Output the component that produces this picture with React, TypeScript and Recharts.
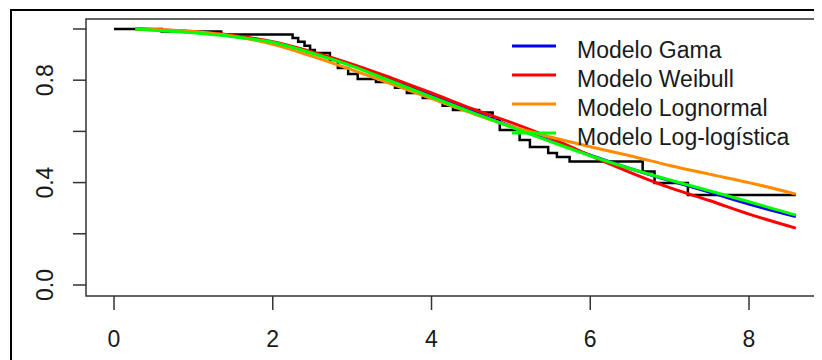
import { LineChart, Line, XAxis, YAxis, ReferenceArea, Legend } from "recharts";

// tempos onde as curvas parametricas foram lidas
const modelTimes = [0.27, 0.5, 1, 1.5, 2, 2.5, 3, 3.5, 4, 4.5, 5, 5.5, 6, 6.5, 7, 7.5, 8, 8.59];
const gamaSurv = [1.0, 0.997, 0.987, 0.972, 0.948, 0.907, 0.858, 0.8, 0.74, 0.68, 0.62, 0.562, 0.507, 0.455, 0.408, 0.363, 0.316, 0.267];
const weibullSurv = [1.0, 0.998, 0.99, 0.975, 0.95, 0.91, 0.863, 0.808, 0.75, 0.69, 0.635, 0.575, 0.505, 0.44, 0.38, 0.33, 0.277, 0.222];
const lognormalSurv = [1.0, 0.998, 0.99, 0.972, 0.94, 0.893, 0.84, 0.785, 0.728, 0.672, 0.62, 0.578, 0.54, 0.505, 0.467, 0.433, 0.4, 0.355];
const loglogSurv = [1.0, 0.995, 0.985, 0.97, 0.948, 0.905, 0.855, 0.795, 0.735, 0.675, 0.617, 0.56, 0.505, 0.455, 0.41, 0.368, 0.325, 0.273];

// Kaplan-Meier (degraus)
const kmTimes = [0, 0.6, 1.35, 2.25, 2.32, 2.4, 2.47, 2.53, 2.72, 2.82, 2.95, 3.07, 3.3, 3.54, 3.69, 3.89, 4.14, 4.27, 4.6, 4.77, 4.86, 5.11, 5.24, 5.47, 5.58, 5.74, 6.66, 6.81, 7.23, 8.59];
const kmSurv = [1.0, 0.99, 0.978, 0.965, 0.95, 0.935, 0.918, 0.906, 0.879, 0.848, 0.824, 0.805, 0.793, 0.77, 0.75, 0.73, 0.7, 0.684, 0.674, 0.645, 0.605, 0.566, 0.539, 0.516, 0.5, 0.482, 0.443, 0.398, 0.352, 0.352];

const legendOrder = ["Modelo Gama", "Modelo Weibull", "Modelo Lognormal", "Modelo Log-logística"];

const xTicks = [0, 2, 4, 6, 8];
const yTicks = [0, 0.2, 0.4, 0.6, 0.8, 1.0];
const yLabels = ["0.0", "", "0.4", "", "0.8", ""];

const toRows = (ts: number[], ss: number[]) => ts.map((t, i) => ({ t, s: ss[i] }));

const kmData = toRows(kmTimes, kmSurv);
const gamaData = toRows(modelTimes, gamaSurv);
const weibullData = toRows(modelTimes, weibullSurv);
const lognormalData = toRows(modelTimes, lognormalSurv);
const loglogData = toRows(modelTimes, loglogSurv);

const FONT = "'Liberation Sans', Arial, sans-serif";

const YTick = (props: any) => {
  const { x, y, index } = props;
  const label = yLabels[index];
  if (!label) return null;
  return (
    <text x={x} y={y} transform={`rotate(-90, ${x}, ${y})`} textAnchor="middle" fontSize={23} fontFamily={FONT} fill="#1a1a1a">
      {label}
    </text>
  );
};

const LegendBox = (props: any) => {
  const items = (props.payload || [])
    .filter((p: any) => legendOrder.includes(p.value))
    .sort((a: any, b: any) => legendOrder.indexOf(a.value) - legendOrder.indexOf(b.value));
  return (
    <div style={{ position: "relative", width: 822, height: 360 }}>
      {items.map((p: any, i: number) => (
        <div key={p.value}>
          <svg style={{ position: "absolute", left: 512, top: 44 + i * 29, overflow: "visible" }} width={44} height={4}>
            <line x1={0} y1={2} x2={44} y2={2} stroke={p.color} strokeWidth={3} />
          </svg>
          <span
            style={{
              position: "absolute",
              left: 577,
              top: 39 + i * 29,
              fontSize: 23,
              lineHeight: "23px",
              fontFamily: FONT,
              color: "#1a1a1a",
              whiteSpace: "nowrap",
            }}
          >
            {p.value}
          </span>
        </div>
      ))}
    </div>
  );
};

export default function App() {
  return (
    <div style={{ position: "relative", width: 822, height: 360, margin: "-8px 0 0 -8px", background: "#fff", overflow: "hidden" }}>
      <div style={{ position: "absolute", left: 10, top: 9, width: 830, height: 380, border: "2px solid #000" }} />
      <LineChart width={822} height={360} margin={{ top: 19, right: 1, bottom: 0, left: 0 }}>
        <XAxis
          dataKey="t"
          type="number"
          domain={[-0.353, 8.907]}
          ticks={xTicks}
          allowDataOverflow
          height={64}
          axisLine={false}
          tickSize={14}
          tickMargin={21}
          tickLine={{ stroke: "#333", strokeWidth: 1.5 }}
          tick={{ fontSize: 23, fontFamily: FONT, fill: "#1a1a1a" }}
        />
        <YAxis
          dataKey="s"
          type="number"
          domain={[-0.043, 1.039]}
          ticks={yTicks}
          allowDataOverflow
          width={86}
          axisLine={false}
          tickSize={13}
          tickMargin={20}
          tickLine={{ stroke: "#333", strokeWidth: 1.5 }}
          tick={<YTick />}
        />
        <ReferenceArea x1={-0.353} x2={8.907} y1={-0.043} y2={1.039} fill="none" stroke="#333" strokeWidth={1.5} />
        <Line data={kmData} dataKey="s" name="KM" type="stepAfter" stroke="#000" strokeWidth={2.5} dot={false} legendType="none" isAnimationActive={false} />
        <Line data={gamaData} dataKey="s" name="Modelo Gama" type="monotone" stroke="#0000ff" strokeWidth={3} dot={false} isAnimationActive={false} />
        <Line data={weibullData} dataKey="s" name="Modelo Weibull" type="monotone" stroke="#ff0000" strokeWidth={3} dot={false} isAnimationActive={false} />
        <Line data={lognormalData} dataKey="s" name="Modelo Lognormal" type="monotone" stroke="#ff8c00" strokeWidth={3} dot={false} isAnimationActive={false} />
        <Line data={loglogData} dataKey="s" name="Modelo Log-logística" type="monotone" stroke="#00ff00" strokeWidth={3} dot={false} isAnimationActive={false} />
        <Legend
          layout="vertical"
          align="center"
          verticalAlign="middle"
          content={<LegendBox />}
          wrapperStyle={{ left: 0, top: 0, width: 822, height: 360, pointerEvents: "none" }}
        />
      </LineChart>
    </div>
  );
}
